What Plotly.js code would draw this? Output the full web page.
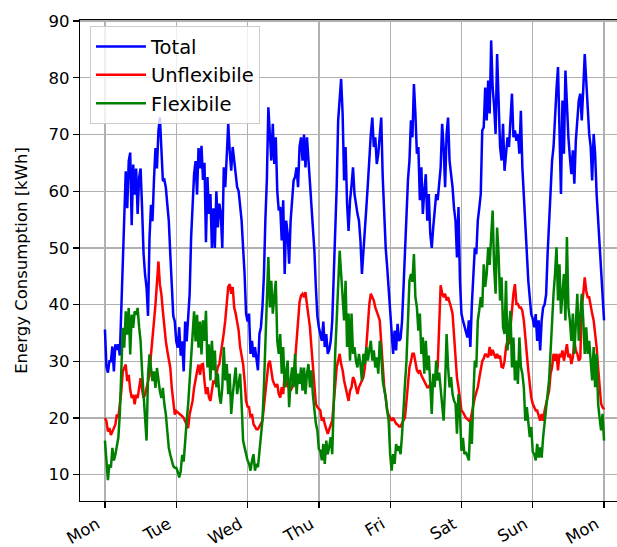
<!DOCTYPE html>
<html>
<head>
<meta charset="utf-8">
<script src="https://cdn.plot.ly/plotly-3.0.1.min.js"></script>
<style>
  html, body { margin: 0; padding: 0; background: #fff; overflow: hidden; }
  #chart { width: 629px; height: 547px; }
</style>
</head>
<body>
<div id="chart"></div>
<script>
// Day labels for the ticks (one per midnight, Monday to the following Monday)
const dayLabels = ['Mon', 'Tue', 'Wed', 'Thu', 'Fri', 'Sat', 'Sun', 'Mon'];

// Half-hourly energy consumption in kWh, Monday 00:00 to next Monday 00:00 (one row per day)
const total = [
  35.6, 29, 28, 30, 30, 32.6, 28.2, 33, 32, 33, 31, 40, 49, 56, 63.5, 57, 65.3, 66.8, 54, 64.7, 59.4, 64, 56, 62.4, 64, 57, 49, 45.3, 43, 38, 51.8, 57.6, 54.7, 62, 67.6, 64, 70.6, 73, 68, 61.8, 62, 60.6, 57.6, 54.7, 48.8, 43, 38, 37,
  33.5, 32.4, 36, 31, 33.5, 28.2, 37, 33.5, 37, 41.8, 51.8, 58, 63, 65.3, 59.4, 67.6, 64, 68, 62, 65, 51, 62.5, 56, 59.5, 50, 57, 50, 60, 53.6, 57.8, 56, 50, 64.2, 60.7, 66.6, 71.9, 67, 63.6, 67.8, 65.4, 61.9, 60.7, 60, 57.8, 54.8, 50, 45.4, 38.4,
  37, 38.4, 31.3, 33.6, 30.7, 32.5, 30, 28.4, 34.8, 36, 39.5, 45, 55, 62, 74.8, 70.7, 65.4, 71.9, 64.8, 69.5, 60, 56.6, 57.2, 51.3, 58.4, 45.4, 54.8, 52.5, 47.2, 54.8, 58, 61.9, 62.5, 64.2, 60.7, 67.8, 69.5, 65.4, 70, 64.2, 69.5, 65.4, 61.9, 58.4, 53.6, 49.5, 43, 38,
  36, 34.8, 33.6, 37, 32.5, 34.8, 31.3, 32, 33.6, 37, 44.2, 52.5, 60.7, 72.5, 76.6, 79.8, 73.7, 61.9, 67.8, 57.8, 53, 58.4, 61, 64.2, 59.5, 57.2, 56, 54.8, 51.3, 45.4, 50, 53, 57.2, 61.3, 66.6, 70.1, 73, 67.8, 69.5, 64.8, 66.6, 70, 73, 62.5, 56, 50, 46.6, 43,
  38, 34, 31.3, 35.4, 31.9, 36.6, 33.6, 34, 37, 43, 49, 57.2, 62, 65.4, 72.5, 69.5, 78.9, 73.7, 66.6, 67.8, 58.4, 64.2, 56, 60, 63, 54.8, 59.5, 52.5, 50, 53.6, 57.2, 59.5, 58.4, 61, 64.2, 71.9, 67.8, 60.7, 70.1, 73, 65.4, 63, 60.7, 57, 54.8, 48.3, 57.2, 44.2,
  38.4, 37.2, 36, 35, 34.2, 37.2, 32.5, 40, 44.7, 50, 48.9, 54.8, 57, 59.5, 70.7, 71.3, 78.3, 72.5, 79.5, 73.7, 86.6, 78.3, 75, 70.1, 84.2, 73.7, 67.8, 65.4, 71.9, 63.6, 66, 69.5, 67.8, 73, 77.2, 69.5, 70.7, 68.9, 70.1, 66.6, 74.2, 64.2, 59.5, 53, 47.7, 44.2, 41.2, 38.3,
  37.5, 36, 38.3, 33.6, 37.2, 31.9, 37.2, 39.5, 40, 41.8, 48.9, 54.8, 58.4, 65.4, 67.8, 74.2, 78, 81.9, 72.5, 59.5, 76, 66.6, 81.3, 74.2, 69.5, 66, 63, 67.2, 61.3, 68.9, 72.5, 76, 77.2, 72.5, 78, 84.2, 79.5, 74.8, 70.1, 67.8, 61.9, 70.1, 66.6, 59.5, 55, 51.3, 46, 43.7,
  37.2
];

const unflexible = [
  20, 19.4, 17.6, 18.2, 17, 17.6, 18.5, 18.8, 20.6, 20, 22.4, 24.7, 28.2, 28.8, 29.4, 26.5, 27.6, 25, 23.5, 24.1, 22.4, 24.1, 23.5, 25.3, 27, 25, 23.5, 24.1, 25.3, 25.9, 27.6, 31.2, 35, 37, 40, 44.1, 47.6, 43.5, 41.8, 38.8, 35.9, 33.5, 31.8, 30, 28.8, 25.3, 22.4, 20.6,
  21.2, 21, 20.8, 20.6, 20.3, 20, 19.4, 18.8, 18.2, 20.6, 22, 23, 25.3, 27, 28.2, 29.4, 27.6, 29.4, 29.5, 26.5, 24.2, 25.4, 23.6, 23, 24.8, 26.6, 26, 27.8, 29, 29.5, 31.3, 32.5, 35, 37.2, 40.7, 43.1, 43.6, 41.9, 43.1, 39.5, 38.4, 37, 35.4, 32.5, 31.3, 29.5, 26.6, 23,
  22, 21.9, 20.1, 20.7, 18.9, 18.4, 18, 18, 18.6, 19.2, 19.5, 21.9, 24.8, 27.8, 29.5, 30.1, 28.4, 26.6, 26, 25.4, 26, 24.2, 23.6, 25.4, 24.2, 27.8, 26.5, 25.4, 26, 24.8, 25.4, 27.2, 30.1, 33.6, 37.2, 40.4, 41.6, 41.9, 41.3, 42.2, 40, 38.4, 36, 32.5, 28.9, 25.4, 22.5, 21.9,
  21.5, 21.3, 19.5, 20.1, 18.9, 17.8, 17.2, 18, 18.9, 19.5, 22.5, 26.6, 28.9, 30.1, 31.3, 29.5, 28.4, 26.6, 25.4, 24.2, 23, 24.8, 25.4, 27.2, 26.6, 25.4, 24.2, 25.4, 26, 26.6, 27.2, 28.9, 32.5, 37.2, 40.1, 41.9, 41.3, 40.7, 39.5, 38.9, 38, 37.2, 33.6, 28.9, 25.4, 23.6, 21.3, 20.5,
  20, 19.5, 20, 19.5, 19, 18.8, 18.5, 18.5, 19, 19.5, 20.1, 23, 26, 28.9, 30, 31.3, 31.3, 29.5, 28.4, 28, 28.4, 27.5, 27, 26.6, 26, 25.4, 25.4, 26, 25.4, 26.6, 26.6, 27, 29, 37, 43.4, 42, 41.3, 41.9, 40.7, 41.3, 40.1, 39.5, 38.4, 35, 30, 27, 25.4, 23,
  21.3, 21, 20.5, 20, 19.8, 19.5, 19.5, 21, 22.5, 23.6, 24.5, 25.4, 27, 28.9, 30, 30.5, 31.3, 31, 30.7, 32.5, 31, 32, 31.3, 30.5, 31.3, 30.5, 31, 29, 28.9, 30, 32.5, 33.6, 33, 36, 39.5, 41.9, 43.6, 40.1, 40.1, 39.5, 39.5, 38.9, 37.2, 33.6, 31.3, 28.4, 25.4, 23.6,
  22.5, 21.9, 21.3, 21.3, 20.1, 19.5, 20.7, 19.5, 21.3, 22.5, 23.5, 24.8, 27.8, 28.9, 31.3, 30.1, 31.3, 28.4, 31.3, 30.7, 31.9, 30.1, 31.5, 33, 30.7, 31.3, 29.5, 30.7, 33.6, 31.9, 31.3, 30.1, 30.5, 39.5, 41.9, 44.8, 42.4, 41.3, 41.3, 39.5, 38.4, 37.2, 35, 32.5, 28.9, 25.4, 22.5, 21.9,
  21.5
];

const flexible = [
  16, 12.4, 9, 11.8, 11.2, 14.7, 12.5, 13.5, 15.3, 16.5, 20.6, 28.8, 35.9, 32.4, 38.8, 34.7, 39.4, 31.2, 38.2, 35.9, 38.8, 38.2, 39.4, 36, 33.5, 28.2, 23.5, 21, 16, 27.6, 31.2, 28.8, 26.5, 28.2, 25.3, 28.8, 26.5, 24.7, 23.5, 25.3, 22.4, 20.6, 17.6, 14.7, 13.5, 12.3, 11.5, 11.2,
  11.2, 10.5, 9.5, 10.6, 13.5, 12.3, 16.5, 19.4, 22.4, 27, 32, 34.7, 38.8, 33.5, 38.2, 32.4, 37, 31.2, 37.2, 33.6, 38.9, 28.9, 33, 26.6, 33.6, 28.4, 31.9, 25.4, 27.8, 24, 22.5, 25.4, 32.5, 26.6, 29.5, 24.2, 27.8, 20.7, 24, 26.6, 28.9, 24.2, 26, 27.8, 22.5, 16, 14.8, 13.6,
  12.5, 11.9, 10.7, 12.5, 13.6, 10.7, 11.9, 11.3, 14, 16, 19.5, 25.4, 33.6, 41.9, 48.4, 39.5, 44.2, 38.4, 41, 44.2, 33.6, 31.3, 34.8, 27.8, 32.5, 25.4, 28, 30.1, 21.9, 26.6, 28.9, 25.4, 31.3, 24.2, 27.8, 26, 28.9, 24.8, 28.9, 24.2, 27.8, 29.5, 25.4, 28.4, 24, 21.5, 19, 17.8,
  14.5, 14.2, 12.5, 15.4, 11.9, 16, 13.6, 15, 16.6, 13.6, 25.4, 31.3, 37.2, 44.2, 49.5, 45.4, 42, 37.2, 44.2, 32.5, 38.4, 30.1, 38.4, 31.3, 32.5, 30, 28.9, 31.3, 29.5, 26.6, 31.3, 29.5, 32.5, 30.1, 32, 33.6, 30.1, 31.9, 28.9, 30.7, 27.8, 33.6, 31.3, 26.6, 25, 23.6, 21.3, 19.5,
  13.6, 10.7, 13.6, 11.9, 15.4, 14.2, 15, 13.6, 17, 22.5, 26, 30.1, 39.5, 44.2, 45.4, 44, 48.9, 41.3, 39.5, 35.4, 38.4, 31.3, 34.2, 27.8, 33.6, 28.4, 31, 24.2, 20.7, 27.8, 25.4, 30.1, 26.6, 28, 24.8, 22.5, 19.5, 26, 34.8, 29, 25.4, 27.2, 24.2, 23, 22.5, 17.2, 24.2, 20.7,
  14.2, 16.5, 13.6, 14, 13, 12.5, 19.5, 15.4, 23.6, 30.1, 28.9, 37.2, 39, 41.3, 39.5, 47.1, 43.1, 45.4, 50.1, 47, 52, 56.6, 46.6, 41.9, 53.6, 48.9, 40.7, 44.8, 36, 34.8, 44.2, 31.9, 36, 38.9, 28.9, 34.2, 26.6, 30.1, 26, 34.2, 29, 27.8, 25.4, 19.5, 21.9, 18.9, 16.6, 18.4,
  14, 13.6, 12.5, 15.4, 13, 14.8, 13, 16.6, 19.5, 22, 24.2, 26.6, 32.5, 37.2, 41.9, 45.4, 50.1, 40.7, 47.1, 38.4, 42, 45.4, 37.2, 51.9, 39.5, 37.2, 33.6, 38.4, 31.3, 36, 41.9, 33.6, 38.4, 41.9, 37.2, 31.3, 36, 31.3, 33.6, 30, 26.6, 32.5, 25.4, 31.3, 22.5, 20, 17.8, 20.7,
  16
];

// Time axis in days since Monday 00:00 (two readings per hour)
const days = total.map((_, i) => i / 48);

const FONT = 'DejaVu Sans, sans-serif';

function series(name, y, color) {
  return {
    type: 'scatter', mode: 'lines', name: name,
    x: days, y: y,
    line: { color: color, width: 2.5 },
    legendgroup: name
  };
}

const data = [
  series('Total', total, '#0000ff'),
  series('Unflexibile', unflexible, '#ff0000'),
  series('Flexibile', flexible, '#008000')
];

const axisCommon = {
  showline: true, linecolor: '#000', linewidth: 1.3,
  ticks: 'outside', ticklen: 6, tickwidth: 1.3, tickcolor: '#000',
  showgrid: true, gridcolor: '#b0b0b0', gridwidth: 1.3,
  zeroline: false,
  tickfont: { family: FONT, size: 16.5, color: '#000' }
};

const layout = {
  width: 629, height: 547,
  margin: { l: 80, r: 0, t: 20, b: 46, pad: 0 },
  paper_bgcolor: '#fff', plot_bgcolor: '#fff',
  font: { family: FONT, size: 16.5, color: '#000' },
  showlegend: true,
  legend: {
    x: 0.0182, y: 0.987, xanchor: 'left', yanchor: 'top',
    bgcolor: 'rgba(255,255,255,0.8)', bordercolor: '#cccccc', borderwidth: 1,
    font: { family: FONT, size: 19.5, color: '#000' },
    traceorder: 'grouped', tracegroupgap: 0, itemwidth: 50
  },
  xaxis: Object.assign({}, axisCommon, {
    range: [-0.35, 7.35],
    tickmode: 'array',
    tickvals: dayLabels.map((_, i) => i),
    ticktext: dayLabels,
    tickangle: -30,
    ticklabelstandoff: 0,
    ticklabelshift: -8,
    mirror: true
  }),
  yaxis: Object.assign({}, axisCommon, {
    range: [5.34, 90.2],
    tickmode: 'array',
    tickvals: [10, 20, 30, 40, 50, 60, 70, 80, 90],
    mirror: false,
    title: { text: 'Energy Consumption [kWh]', font: { family: FONT, size: 16.5, color: '#000' }, standoff: 16 }
  })
};

Plotly.newPlot('chart', data, layout, { staticPlot: true, displayModeBar: false });
</script>
</body>
</html>
